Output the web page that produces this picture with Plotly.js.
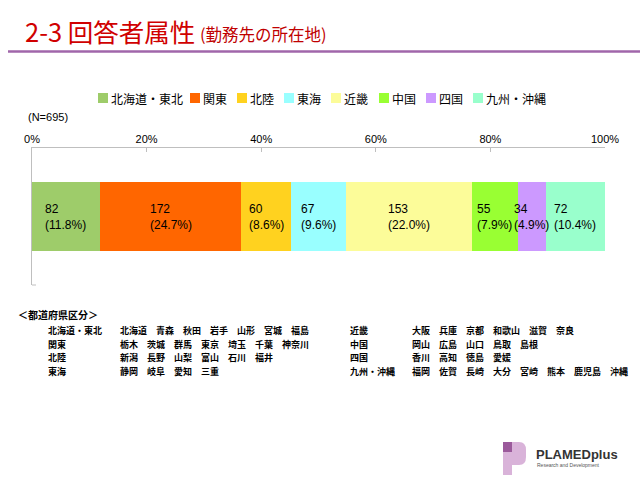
<!DOCTYPE html>
<html><head><meta charset="utf-8">
<script src="https://cdn.plot.ly/plotly-3.0.1.min.js"></script>
<style>html,body{margin:0;padding:0;background:#fff;}#chart{width:640px;height:480px;}</style>
</head><body><div id="chart"></div>
<script>
// ---- data ----
const categories = ["北海道・東北", "関東", "北陸", "東海", "近畿", "中国", "四国", "九州・沖縄"];
const counts = [82, 172, 60, 67, 153, 55, 34, 72];
const colors = ["#9ECC6A", "#FF6600", "#FFD21F", "#99FFFF", "#FCFC99", "#99FF33", "#CC99FF", "#99FFCC"];
const tickVals = [0, 20, 40, 60, 80, 100];
const tickLabels = ["0%", "20%", "40%", "60%", "80%", "100%"];
const totalN = 695;
const regionLabels = ["北海道・東北", "関東", "北陸", "東海", "近畿", "中国", "四国", "九州・沖縄"];
const prefLists = [
  ["北海道", "青森", "秋田", "岩手", "山形", "宮城", "福島"],
  ["栃木", "茨城", "群馬", "東京", "埼玉", "千葉", "神奈川"],
  ["新潟", "長野", "山梨", "富山", "石川", "福井"],
  ["静岡", "岐阜", "愛知", "三重"],
  ["大阪", "兵庫", "京都", "和歌山", "滋賀", "奈良"],
  ["岡山", "広島", "山口", "鳥取", "島根"],
  ["香川", "高知", "徳島", "愛媛"],
  ["福岡", "佐賀", "長崎", "大分", "宮崎", "熊本", "鹿児島", "沖縄"]
];

// ---- layout helpers ----
const W = 640, H = 480;
const px = x => x / W;
const py = y => 1 - y / H;
const FONT = "Liberation Sans, Noto Sans CJK JP, sans-serif";
const JFONT = "Noto Sans CJK JP, sans-serif";

const pcts = counts.map(v => v / totalN * 100);
const traces = categories.map((c, i) => ({
  type: "bar", orientation: "h", name: c,
  y: ["all"], x: [pcts[i]],
  marker: { color: colors[i], line: { width: 0 } },
  hoverinfo: "skip", showlegend: false
}));

const annotations = [];
const shapes = [];

// bar labels
let cum = 0;
counts.forEach((v, i) => {
  const p = pcts[i];
  annotations.push({
    xref: "x", yref: "y", x: cum + p / 2, y: "all",
    text: v + "<br>(" + p.toFixed(1) + "%)",
    showarrow: false, align: "left", xanchor: "center", yanchor: "middle",
    font: { family: FONT, size: 12, color: "#000" }
  });
  cum += p;
});

// title
annotations.push({ xref: "paper", yref: "paper", x: px(23), y: py(31), xanchor: "left", yanchor: "middle",
  text: "2-3 回答者属性", showarrow: false, font: { family: JFONT, size: 25.5, color: "#D00000" } });
annotations.push({ xref: "paper", yref: "paper", x: px(198), y: py(34), xanchor: "left", yanchor: "middle",
  text: "(勤務先の所在地)", showarrow: false, font: { family: JFONT, size: 16.5, color: "#C00000" } });
shapes.push({ type: "line", xref: "paper", yref: "paper", x0: px(8), x1: 1, y0: py(51.5), y1: py(51.5),
  line: { color: "#A066AA", width: 2.5 } });

// manual legend
const legendX = [98, 190, 237, 284, 331, 379, 426, 473];
categories.forEach((c, i) => {
  const x0 = legendX[i];
  shapes.push({ type: "rect", xref: "paper", yref: "paper", x0: px(x0), x1: px(x0 + 10), y0: py(93), y1: py(103),
    fillcolor: colors[i], line: { width: 0 } });
  annotations.push({ xref: "paper", yref: "paper", x: px(x0 + 11), y: py(98.5), xanchor: "left", yanchor: "middle",
    text: c, showarrow: false, font: { family: JFONT, size: 12, color: "#000" } });
});

// N label
annotations.push({ xref: "paper", yref: "paper", x: px(26), y: py(117), xanchor: "left", yanchor: "middle",
  text: "(N=" + totalN + ")", showarrow: false, font: { family: FONT, size: 11, color: "#000" } });

// prefecture table
annotations.push({ xref: "paper", yref: "paper", x: px(16), y: py(314), xanchor: "left", yanchor: "middle",
  text: "<b>＜都道府県区分＞</b>", showarrow: false, font: { family: JFONT, size: 10, color: "#000" } });
const rowY = [330, 344, 357.5, 371];
regionLabels.forEach((r, i) => {
  const col = i < 4 ? 0 : 1;
  const y = rowY[i % 4];
  const lx = col === 0 ? 46 : 348;
  const vx = col === 0 ? 118 : 410;
  annotations.push({ xref: "paper", yref: "paper", x: px(lx), y: py(y), xanchor: "left", yanchor: "middle",
    text: "<b>" + r + "</b>", showarrow: false, font: { family: JFONT, size: 9, color: "#000" } });
  annotations.push({ xref: "paper", yref: "paper", x: px(vx), y: py(y), xanchor: "left", yanchor: "middle",
    text: "<b>" + prefLists[i].join("　") + "</b>", showarrow: false, font: { family: JFONT, size: 9, color: "#000" } });
});

// small tick at bottom of category axis
shapes.push({ type: "line", xref: "paper", yref: "paper", x0: px(32), x1: px(36), y0: py(285), y1: py(285),
  line: { color: "#BFBFBF", width: 1 } });

// logo
shapes.push({ type: "rect", xref: "paper", yref: "paper", x0: px(503), x1: px(512), y0: py(475), y1: py(442),
  fillcolor: "#D9B3D9", line: { width: 0 } });
shapes.push({ type: "path", xref: "paper", yref: "paper",
  path: "M " + px(512) + " " + py(442) + " L " + px(519) + " " + py(442) +
        " Q " + px(526) + " " + py(442) + " " + px(526) + " " + py(450) +
        " L " + px(526) + " " + py(457) +
        " Q " + px(526) + " " + py(465) + " " + px(519) + " " + py(465) +
        " L " + px(512) + " " + py(465) + " Z",
  fillcolor: "#D9B3D9", line: { width: 0 } });
shapes.push({ type: "rect", xref: "paper", yref: "paper", x0: px(503), x1: px(512), y0: py(452), y1: py(442),
  fillcolor: "#9B5A9B", line: { width: 0 } });
annotations.push({ xref: "paper", yref: "paper", x: px(534), y: py(454), xanchor: "left", yanchor: "middle",
  text: "<b>PLAMEDplus</b>", showarrow: false, font: { family: "Liberation Sans, sans-serif", size: 13, color: "#333" } });
annotations.push({ xref: "paper", yref: "paper", x: px(535), y: py(464.5), xanchor: "left", yanchor: "middle",
  text: "Research and Development", showarrow: false, font: { family: "Liberation Sans, sans-serif", size: 5, color: "#555" } });

const layout = {
  width: W, height: H,
  margin: { l: 0, r: 0, t: 0, b: 0 },
  paper_bgcolor: "#fff", plot_bgcolor: "#fff",
  barmode: "stack", bargap: 0.5,
  showlegend: false,
  xaxis: {
    domain: [px(32), px(605)], range: [0, 100], side: "top",
    tickmode: "array", tickvals: tickVals, ticktext: tickLabels,
    showline: true, linecolor: "#BFBFBF", linewidth: 1,
    ticks: "inside", ticklen: 4, tickcolor: "#BFBFBF",
    showgrid: false, zeroline: false,
    tickfont: { family: FONT, size: 11, color: "#000" }, fixedrange: true
  },
  yaxis: {
    domain: [py(285), py(148)],
    showline: true, linecolor: "#BFBFBF", linewidth: 1.5,
    showticklabels: false, ticks: "", showgrid: false, zeroline: false, fixedrange: true
  },
  annotations: annotations,
  shapes: shapes
};

Plotly.newPlot("chart", traces, layout, { staticPlot: true, displayModeBar: false });
</script></body></html>
